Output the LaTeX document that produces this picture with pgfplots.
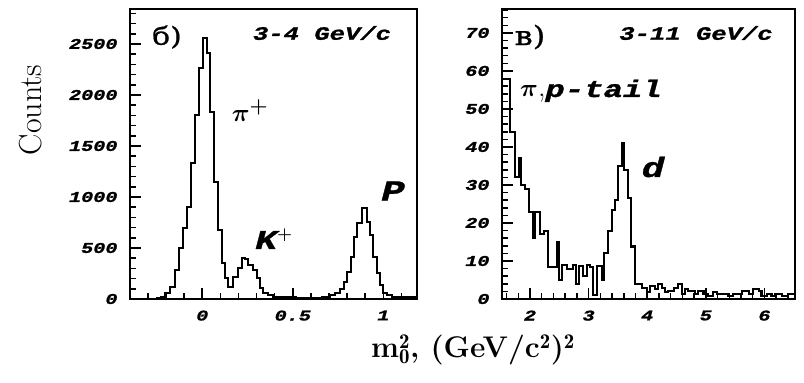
\documentclass[border=0pt]{standalone}
\usepackage{pgfplots}
\pgfplotsset{compat=1.18}
\usepackage{bm}
\usepackage{fontspec}
\newfontfamily\monob[FakeStretch=1.35,FakeBold=1.2]{Liberation Mono}
\newfontfamily\cyr[FakeStretch=1.2,FakeBold=0.8]{DejaVu Serif}
\newcommand{\tickf}{\monob\bfseries\itshape\fontsize{15}{15}\selectfont}
\newcommand{\xlab}{\fontsize{30}{32}\selectfont\bfseries m$_{\mathbf{0}}^{\mathbf{2}}$, (GeV/c$^{\mathbf{2}}$)$^{\mathbf{2}}$}
\begin{document}
\begin{tikzpicture}
\path[use as bounding box] (0bp,0bp) rectangle (804bp,383bp);
\pgfplotsset{
  histax/.style={
    scale only axis, anchor=south west,
    tick align=inside, xtick pos=bottom, ytick pos=left,
    major tick length=11bp, minor tick length=6bp,
    axis line style={line width=2.2bp},
    every tick/.style={line width=1.5bp, black},
    tick label style={font=\tickf},
    /pgf/number format/assume math mode=true,
    /pgf/number format/1000 sep={},
    yticklabel style={xshift=-9bp},
    xticklabel style={yshift=-8bp},
  }
}
\begin{axis}[histax, at={(130bp,84bp)}, width=287bp, height=290bp,
  xmin=-0.399, xmax=1.186, ymin=0, ymax=2843,
  xtick={0,0.5,1}, minor xtick={-0.3,-0.2,...,1.15},
  ytick={0,500,...,2500}, minor ytick={100,200,...,2800}]
\addplot[const plot, line width=2.1bp, black] coordinates {
(-0.399,0) (-0.30,3) (-0.25,8) (-0.228,20) (-0.206,56) (-0.178,120)
(-0.151,284) (-0.127,500) (-0.105,696) (-0.086,905) (-0.064,1336)
(-0.040,1803) (-0.016,2261) (0.006,2555) (0.024,2408) (0.043,1836)
(0.066,1150) (0.089,676) (0.107,350) (0.125,203) (0.144,120)
(0.171,218) (0.199,301) (0.218,399) (0.236,395) (0.254,333)
(0.282,284) (0.300,203) (0.319,105) (0.337,56) (0.365,39)
(0.392,20) (0.45,15) (0.52,10) (0.60,12) (0.66,20) (0.706,39)
(0.733,62) (0.761,95) (0.783,170) (0.801,268) (0.820,415)
(0.838,611) (0.857,748) (0.881,889) (0.908,758) (0.927,627)
(0.945,415) (0.963,252) (0.982,137) (1.000,62) (1.019,39)
(1.046,23) (1.092,15) (1.186,15)};
\end{axis}
\begin{axis}[histax, at={(502bp,84bp)}, width=293bp, height=290bp,
  xmin=1.522, xmax=6.522, ymin=0, ymax=76.3,
  xtick={2,...,6}, minor xtick={1.6,1.8,...,6.45},
  ytick={0,10,...,70}, minor ytick={2,4,...,76}]
\addplot[const plot, line width=2.1bp, black] coordinates {
(1.522,58) (1.659,44) (1.744,32) (1.817,37) (1.841,30) (1.915,29)
(1.989,23) (2.057,16) (2.085,23) (2.171,17) (2.239,18) (2.313,8.5)
(2.455,15) (2.501,5) (2.541,9) (2.626,8) (2.740,9) (2.786,4)
(2.843,8.6) (2.911,6) (2.968,9) (3.024,8.5) (3.081,1) (3.138,8.6)
(3.224,5) (3.263,12) (3.337,18) (3.394,23.5) (3.451,26) (3.508,35)
(3.565,41) (3.604,34) (3.678,26.5) (3.718,13.8) (3.79,4) (3.906,3)
(3.99,1.8) (4.05,3.5) (4.13,2.6) (4.19,4) (4.25,3) (4.30,1.8)
(4.36,2.2) (4.45,3) (4.53,4) (4.59,1.3) (4.65,2.6) (4.70,2.2)
(4.82,1.3) (4.87,2.2) (4.96,1.3) (5.04,0.9) (5.13,1.8) (5.19,1.3)
(5.38,0.9) (5.47,1.3) (5.61,2.2) (5.73,1.3) (5.81,2.6) (5.90,2.2)
(5.95,0.9) (6.04,1.3) (6.12,0.9) (6.18,1.3) (6.30,0.9) (6.41,1.3)
(6.522,1.3)};
\end{axis}
% annotations
\node at (167bp,346bp) {\cyr\fontsize{25}{25}\selectfont б)};
\node at (322bp,350bp) {\monob\bfseries\itshape\fontsize{19}{19}\selectfont 3-4 GeV/c};
\node at (250bp,272bp) {\fontsize{30}{30}\selectfont $\bm{\pi}^{\bm{+}}$};
\node at (274bp,144bp) {\monob\bfseries\itshape\fontsize{27}{27}\selectfont K$^{\bm{+}}$};
\node at (393bp,192bp) {\monob\bfseries\itshape\fontsize{29}{29}\selectfont P};
\node at (530bp,346bp) {\cyr\fontsize{27}{27}\selectfont в)};
\node at (696bp,350bp) {\monob\bfseries\itshape\fontsize{19}{19}\selectfont 3-11 GeV/c};
\node[anchor=base west, inner sep=0pt] at (520bp,286bp) {\fontsize{30}{30}\selectfont $\bm{\pi}$,\monob\bfseries\itshape\fontsize{24}{24}\selectfont p-tail};
\node at (653bp,216bp) {\monob\bfseries\itshape\fontsize{28}{28}\selectfont d};
\node[rotate=90] at (31bp,273bp) {\fontsize{32}{34}\selectfont Counts};
\node at (473bp,33bp) {\xlab};
\end{tikzpicture}
\end{document}
